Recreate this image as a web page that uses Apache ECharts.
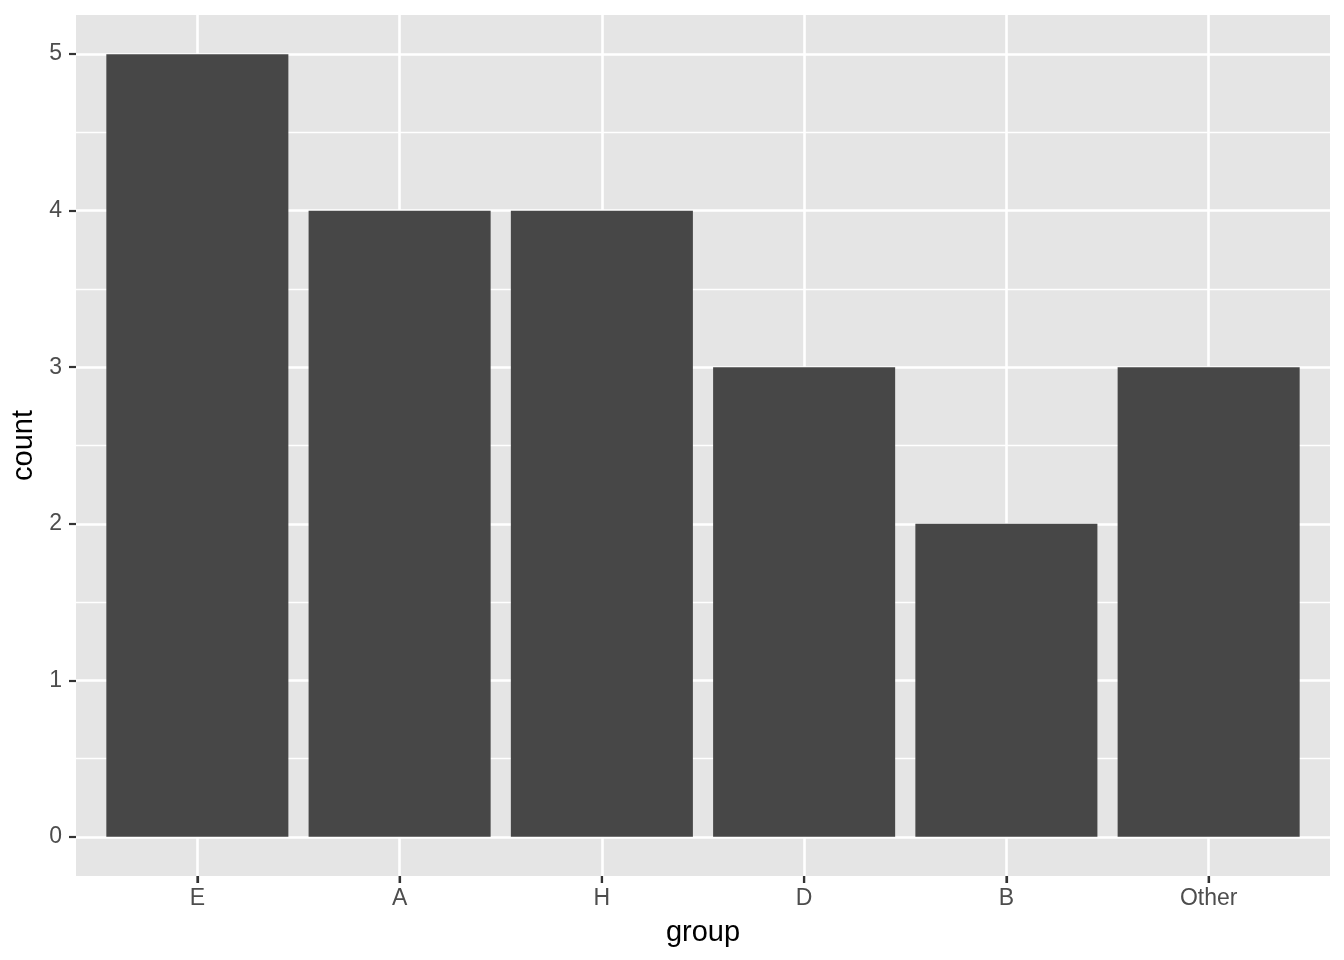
<!DOCTYPE html>
<html>
<head>
<meta charset="utf-8">
<script src="https://cdn.jsdelivr.net/npm/echarts@6/dist/echarts.min.js"></script>
<style>
html,body{margin:0;padding:0;background:#fff;}
#bar1{width:1344px;height:960px;}
</style>
</head>
<body>
<div id="bar1"></div>
<script>
// data
var groups = ['E', 'A', 'H', 'D', 'B', 'Other'];
var counts = [5, 4, 4, 3, 2, 3];
var yTicks = [0, 1, 2, 3, 4, 5];
var yMinor = [0.5, 1.5, 2.5, 3.5, 4.5];
var xPos = [1, 2, 3, 4, 5, 6];
var xRange = [0.4, 6.6];
var yRange = [-0.25, 5.25];

(function(){
var chart = echarts.init(document.getElementById('bar1'));
var font = 'Liberation Sans, Arial, sans-serif';

// panel grid lines, kept inside the panel
var major = {color: '#fff', width: 2.6, type: 'solid'};
var minor = {color: '#fff', width: 1.3, type: 'solid'};
var gridLines = [];
xPos.forEach(function(x){ gridLines.push([{coord: [x, yRange[0]], lineStyle: major}, {coord: [x, yRange[1]]}]); });
yTicks.forEach(function(y){ gridLines.push([{coord: [xRange[0], y], lineStyle: major}, {coord: [xRange[1], y]}]); });
yMinor.forEach(function(y){ gridLines.push([{coord: [xRange[0], y], lineStyle: minor}, {coord: [xRange[1], y]}]); });

var option = {
    animation: false,
    grid: {
        left: 76, right: 14, top: 15, bottom: 84,
        show: true,
        backgroundColor: '#E5E5E5',
        borderWidth: 0
    },
    xAxis: {
        type: 'value',
        z: 10,
        min: xRange[0],
        max: xRange[1],
        name: 'group',
        nameLocation: 'middle',
        nameGap: 42,
        nameTextStyle: {fontFamily: font, fontSize: 29, color: '#000'},
        axisLine: {show: false, onZero: false},
        splitLine: {show: false},
        axisTick: {show: true, customValues: xPos, length: 7, lineStyle: {color: '#333', width: 2.2}},
        axisLabel: {
            customValues: xPos,
            margin: 11,
            fontFamily: font, fontSize: 23, color: '#4D4D4D',
            formatter: function(v){ return groups[Math.round(v) - 1]; }
        }
    },
    yAxis: {
        type: 'value',
        z: 10,
        min: yRange[0],
        max: yRange[1],
        name: 'count',
        nameLocation: 'middle',
        nameGap: 33,
        nameTextStyle: {fontFamily: font, fontSize: 29, color: '#000'},
        axisLine: {show: false, onZero: false},
        splitLine: {show: false},
        axisTick: {show: true, customValues: yTicks, length: 7, lineStyle: {color: '#333', width: 2.2}},
        axisLabel: {
            customValues: yTicks,
            margin: 14,
            fontFamily: font, fontSize: 23, color: '#4D4D4D'
        }
    },
    series: [
        {
            type: 'line',
            data: [],
            silent: true,
            markLine: {
                silent: true,
                z: 1,
                symbol: ['none', 'none'],
                label: {show: false},
                emphasis: {disabled: true},
                animation: false,
                data: gridLines
            }
        },
        {
            name: 'count',
            type: 'bar',
            z: 5,
            barWidth: '90%',
            itemStyle: {color: '#474747'},
            emphasis: {disabled: true},
            data: groups.map(function(g, i){ return [xPos[i], counts[i]]; })
        },
        {
            // x tick marks under the panel
            type: 'scatter',
            z: 20,
            clip: false,
            silent: true,
            symbol: 'rect',
            symbolSize: [2.2, 7],
            symbolOffset: [0, 3.5],
            itemStyle: {color: '#333'},
            emphasis: {disabled: true},
            data: xPos.map(function(x){ return [x, yRange[0]]; })
        }
    ]
};

chart.setOption(option);
})();
</script>
</body>
</html>
